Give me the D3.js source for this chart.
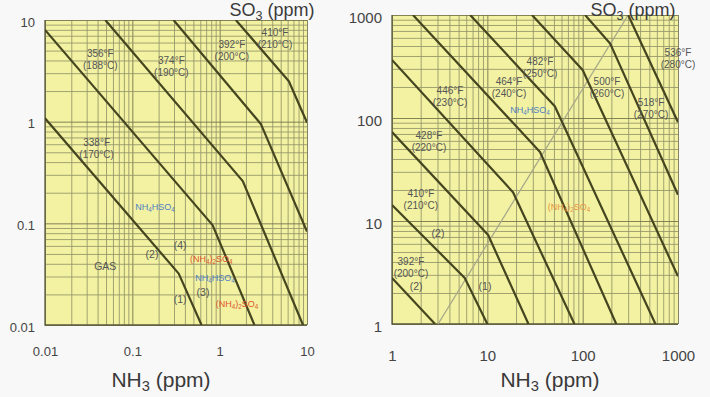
<!DOCTYPE html>
<html>
<head>
<meta charset="utf-8">
<script src="https://cdn.jsdelivr.net/npm/d3@7"></script>
<style>
  body { margin: 0; background: #f8f8f8; }
  svg { display: block; font-family: "Liberation Sans", Arial, sans-serif; }
</style>
</head>
<body>
<svg id="chart" width="710" height="397"></svg>
<script>
// ---- tick values / labels
const leftTicks = [0.01, 0.1, 1, 10];
const leftTickLabels = ["0.01", "0.1", "1", "10"];
const rightTicks = [1, 10, 100, 1000];
const rightTickLabels = ["1", "10", "100", "1000"];

// ---- left panel curves, [NH3 ppm, SO3 ppm]
const l338 = [[0.01, 1.08], [0.34, 0.032], [0.62, 0.01]];
const l356 = [[0.01, 8], [0.83, 0.096], [2.5, 0.01]];
const l374 = [[0.049, 10], [1.84, 0.26], [9, 0.01]];
const l392 = [[0.296, 10], [2.96, 0.95], [10, 0.083]];
const l410 = [[1.53, 10], [6.2, 2.5], [10, 0.98]];

// ---- right panel curves
const r392 = [[1, 2.8], [2.83, 1]];
const r410 = [[1, 14.3], [5.8, 2.8], [10, 1]];
const r428 = [[1, 73], [10.2, 7.3], [27, 1]];
const r446 = [[1, 366], [18.6, 19], [82, 1]];
const r464 = [[1.66, 1000], [35.7, 46.8], [225, 1]];
const r482 = [[6.6, 1000], [51, 130], [580, 1]];
const r500 = [[29.4, 1000], [100, 292], [1000, 2.9]];
const r518 = [[106, 1000], [194, 530], [1000, 18]];
const r536 = [[300, 1000], [1000, 91]];
const rBoundary = [[3.04, 1], [300, 1000]];

// ---- annotations [NH3, SO3, line1, line2]
const leftTempLabels = [
  [0.043, 4.7, "356°F", "(188°C)"],
  [0.28, 4.0, "374°F", "(190°C)"],
  [1.38, 5.7, "392°F", "(200°C)"],
  [4.3, 7.6, "410°F", "(210°C)"],
  [0.039, 0.62, "338°F", "(170°C)"]
];
const rightTempLabels = [
  [1000, 437, "536°F", "(280°C)"],
  [522, 140, "518°F", "(270°C)"],
  [180, 224, "500°F", "(260°C)"],
  [35.7, 350, "482°F", "(250°C)"],
  [16.9, 224, "464°F", "(240°C)"],
  [4.06, 187, "446°F", "(230°C)"],
  [2.44, 68, "428°F", "(220°C)"],
  [2.01, 18.7, "410°F", "(210°C)"],
  [1.58, 4.0, "392°F", "(200°C)"]
];
// [NH3, SO3, text, kind]  ("_" marks a subscript digit)
const leftNotes = [
  [0.182, 0.135, "NH_4HSO_4", "blue"],
  [0.049, 0.035, "GAS", "gray"],
  [0.168, 0.0456, "(2)", "gray"],
  [0.352, 0.056, "(4)", "gray"],
  [0.8, 0.0417, "(NH_4)_2SO_4", "red"],
  [0.885, 0.0271, "NH_4HSO_4", "blue"],
  [0.644, 0.0193, "(3)", "gray"],
  [0.352, 0.0165, "(1)", "gray"],
  [1.58, 0.015, "(NH_4)_2SO_4", "red"]
];
const rightNotes = [
  [28, 112, "NH_4HSO_4", "blue"],
  [72, 12.8, "(NH_4)_2SO_4", "orange"],
  [3.04, 7.0, "(2)", "gray"],
  [1.79, 2.14, "(2)", "gray"],
  [9.46, 2.14, "(1)", "gray"]
];

const noteColor = {blue: "#4f7fc4", gray: "#555", red: "#e0552e", orange: "#e8923e"};

const svg = d3.select("#chart");

// text with "_" subscripts as tspans
// (subscript: 0.7em size, lowered 0.3 of its own em = 0.21 of the parent em)
function formula(sel, str) {
  const parts = str.split(/(_\d)/).filter(s => s.length);
  let sub = false;
  parts.forEach(p => {
    if (p[0] === "_") {
      sel.append("tspan").attr("font-size", "0.7em").attr("dy", sub ? 0 : "0.3em").text(p[1]);
      sub = true;
    } else {
      sel.append("tspan").attr("dy", sub ? "-0.21em" : 0).text(p);
      sub = false;
    }
  });
}

function drawPanel(cfg) {
  const x = d3.scaleLog().domain(cfg.domain).range([cfg.left, cfg.right]);
  const y = d3.scaleLog().domain(cfg.domain).range([cfg.bottom, cfg.top]);
  const w = cfg.right - cfg.left, h = cfg.bottom - cfg.top;
  const g = svg.append("g");

  g.append("rect")
    .attr("x", cfg.left).attr("y", cfg.top)
    .attr("width", w).attr("height", h)
    .attr("fill", "#f2f2a2");

  // log paper grid values
  const grid = [];
  const e0 = Math.round(Math.log10(cfg.domain[0])), e1 = Math.round(Math.log10(cfg.domain[1]));
  for (let e = e0; e < e1; e++) {
    for (let k = 1; k <= 9; k++) grid.push(+(k * Math.pow(10, e)).toPrecision(3));
  }
  grid.push(cfg.domain[1]);

  const gx = g.append("g")
    .attr("transform", "translate(0," + cfg.bottom + ")")
    .call(d3.axisBottom(x).tickValues(grid).tickSize(-h).tickFormat(""));
  const gy = g.append("g")
    .attr("transform", "translate(" + cfg.left + ",0)")
    .call(d3.axisLeft(y).tickValues(grid).tickSize(-w).tickFormat(""));
  [gx, gy].forEach(a => {
    a.select(".domain").remove();
    a.selectAll("line")
      .attr("stroke", d => cfg.ticks.includes(d) ? "#707048" : "#94946a")
      .attr("stroke-width", 1)
      .attr("stroke-opacity", 0.85);
  });

  // frame
  g.append("path")
    .attr("d", `M${cfg.left},${cfg.top}V${cfg.bottom}H${cfg.right}`)
    .attr("fill", "none").attr("stroke", "#5a5a3c").attr("stroke-width", 1.3);

  // tick labels
  const ax = g.append("g")
    .attr("transform", "translate(0," + cfg.bottom + ")")
    .call(d3.axisBottom(x).tickValues(cfg.ticks).tickSize(0).tickPadding(cfg.xPad)
      .tickFormat((d, i) => cfg.tickLabels[i]));
  const ay = g.append("g")
    .attr("transform", "translate(" + cfg.left + "," + cfg.yShift + ")")
    .call(d3.axisLeft(y).tickValues(cfg.ticks).tickSize(0).tickPadding(10)
      .tickFormat((d, i) => cfg.tickLabels[i]));
  [ax, ay].forEach(a => {
    a.select(".domain").remove();
    a.selectAll("text")
      .attr("fill", "#444")
      .style("font-size", cfg.tickFont + "px")
      .style("font-family", "'Liberation Sans', Arial, sans-serif");
  });

  // curves
  const clipId = "clip" + cfg.left;
  svg.append("clipPath").attr("id", clipId)
    .append("rect").attr("x", cfg.left).attr("y", cfg.top).attr("width", w).attr("height", h);

  const line = d3.line().x(d => x(d[0])).y(d => y(d[1]));
  if (cfg.boundary) {
    g.append("path").datum(cfg.boundary)
      .attr("clip-path", `url(#${clipId})`)
      .attr("d", line).attr("fill", "none")
      .attr("stroke", "#a9a98a").attr("stroke-width", 1.3);
  }
  g.selectAll(".curve").data(cfg.curves).enter().append("path")
    .attr("class", "curve")
    .attr("clip-path", `url(#${clipId})`)
    .attr("d", line).attr("fill", "none")
    .attr("stroke", "#454520").attr("stroke-width", 2.2)
    .attr("stroke-linejoin", "round");

  // temperature labels
  cfg.tempLabels.forEach(d => {
    const t = g.append("text")
      .attr("x", x(d[0])).attr("y", y(d[1]))
      .attr("text-anchor", "middle")
      .attr("fill", "#555")
      .style("font-size", "10px");
    t.append("tspan").attr("x", x(d[0])).attr("dy", "0.35em").text(d[2]);
    t.append("tspan").attr("x", x(d[0])).attr("dy", 12).text(d[3]);
  });

  cfg.notes.forEach(d => {
    const t = g.append("text")
      .attr("x", x(d[0])).attr("y", y(d[1]))
      .attr("dy", "0.35em")
      .attr("text-anchor", "middle")
      .attr("fill", noteColor[d[3]])
      .style("font-size", d[3] === "gray" ? "10.5px" : "9px");
    formula(t, d[2]);
  });

  // axis titles
  const nt = g.append("text")
    .attr("x", cfg.nhX).attr("y", 387)
    .attr("text-anchor", "middle").attr("fill", "#3a3a3a")
    .style("font-size", "21px");
  formula(nt, "NH_3 (ppm)");
  const st = g.append("text")
    .attr("x", cfg.soX).attr("y", 16)
    .attr("text-anchor", "middle").attr("fill", "#3a3a3a")
    .style("font-size", "18px");
  formula(st, "SO_3 (ppm)");
}

drawPanel({
  domain: [0.01, 10], left: 45, right: 307, top: 20, bottom: 325,
  ticks: leftTicks, tickLabels: leftTickLabels, tickFont: 13, xPad: 22, yShift: 2,
  curves: [l338, l356, l374, l392, l410],
  tempLabels: leftTempLabels, notes: leftNotes,
  nhX: 161, soX: 272
});

drawPanel({
  domain: [1, 1000], left: 392, right: 678, top: 15, bottom: 324,
  ticks: rightTicks, tickLabels: rightTickLabels, tickFont: 15, xPad: 26, yShift: 3,
  curves: [r392, r410, r428, r446, r464, r482, r500, r518, r536],
  boundary: rBoundary,
  tempLabels: rightTempLabels, notes: rightNotes,
  nhX: 550, soX: 633
});
</script>
</body>
</html>
